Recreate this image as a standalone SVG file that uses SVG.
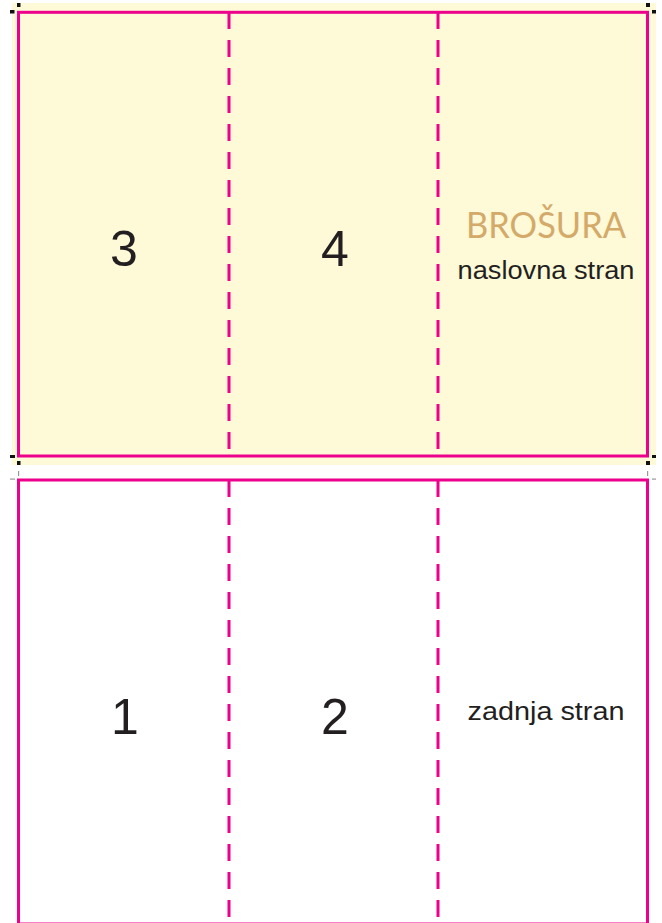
<svg xmlns="http://www.w3.org/2000/svg" width="662" height="923" viewBox="0 0 662 923">
<style>
.frame{fill:none;stroke:#EC008C;stroke-width:3}
.fold{fill:none;stroke:#EC008C;stroke-width:3;stroke-dasharray:17 11}
.num{font-family:"Liberation Sans",Arial,sans-serif;font-size:50px;fill:#231F20;text-anchor:middle}
.lbl{font-family:"Liberation Sans",Arial,sans-serif;font-size:26px;fill:#231F20;text-anchor:middle}
.title{font-family:Lato,"Liberation Sans",sans-serif;font-size:36px;fill:#D4AA6A;text-anchor:middle}
.crop{fill:#111}
.crop2{fill:#999}
</style>
<rect width="662" height="923" fill="#FFFFFF"/>
<g id="front">
<rect x="12" y="3" width="644" height="462" fill="#FEF9D7"/>
<rect class="frame" x="18.5" y="12.3" width="629" height="443.7"/>
<line class="fold" x1="229" y1="12" x2="229" y2="456"/>
<line class="fold" x1="438" y1="12" x2="438" y2="456"/>
<text class="num" x="124" y="266">3</text>
<text class="num" x="335" y="266">4</text>
<text class="title" x="546" y="238" textLength="160" lengthAdjust="spacingAndGlyphs">BROŠURA</text>
<text class="lbl" x="546" y="279" textLength="177" lengthAdjust="spacingAndGlyphs">naslovna stran</text>
</g>
<g id="cropmarks">
<rect class="crop" x="17" y="3" width="3.5" height="4"/>
<rect class="crop" x="10" y="10" width="4.5" height="3.5"/>
<rect class="crop" x="646" y="3" width="4" height="4"/>
<rect class="crop" x="652" y="10" width="4" height="3.5"/>
<rect class="crop" x="10" y="455" width="5" height="3"/>
<rect class="crop" x="17" y="461" width="3.5" height="4"/>
<rect class="crop" x="652" y="455" width="4" height="3"/>
<rect class="crop" x="646" y="461" width="4" height="4"/>
<rect class="crop2" x="18" y="471" width="1.2" height="5"/>
<rect class="crop2" x="10" y="478.5" width="5" height="1.2"/>
<rect class="crop2" x="647" y="471" width="1.2" height="5"/>
<rect class="crop2" x="652" y="478.5" width="4" height="1.2"/>
</g>
<g id="back">
<rect class="frame" x="18.5" y="480" width="629" height="444"/>
<line class="fold" x1="229" y1="480" x2="229" y2="923"/>
<line class="fold" x1="438" y1="480" x2="438" y2="923"/>
<text class="num" x="125" y="734">1</text>
<text class="num" x="335" y="734">2</text>
<text class="lbl" x="546" y="720" textLength="157" lengthAdjust="spacingAndGlyphs">zadnja stran</text>
</g>
</svg>
